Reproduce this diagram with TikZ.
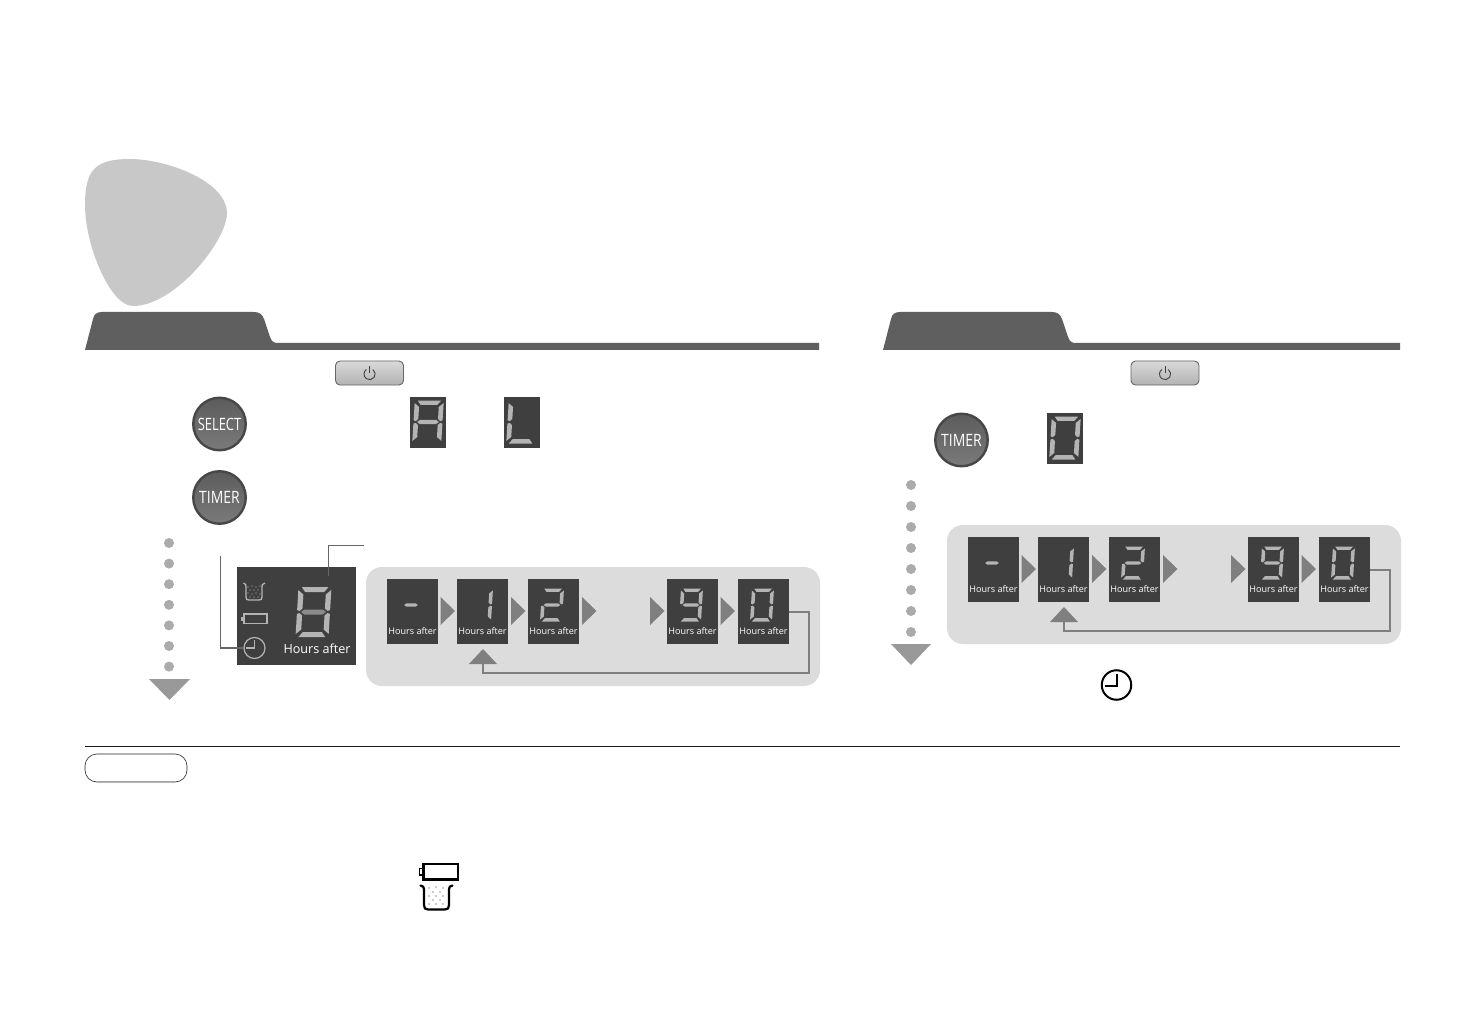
\documentclass[tikz,border=0pt]{standalone}
\usepackage{fontspec}
\setmainfont{Open Sans}
\definecolor{panelc}{HTML}{3F3F3F}
\definecolor{stripc}{HTML}{DCDCDC}
\definecolor{segc}{HTML}{B4B4B4}
\definecolor{segdim}{HTML}{8A8A8A}
\definecolor{arrowc}{HTML}{7F7F7F}
\definecolor{dotc}{HTML}{ABABAB}
\definecolor{tabc}{HTML}{5F5F5F}
\definecolor{blobc}{HTML}{C8C8C8}
\definecolor{leadc}{HTML}{666666}
\tikzset{
  dispbox/.style={fill=panelc,draw=none,inner sep=0pt,minimum width=51pt,minimum height=65pt},
  tinybox/.style={fill=panelc,draw=none,inner sep=0pt,minimum width=36pt,minimum height=51pt},
  hourstext/.style={text=white,inner sep=0pt,font=\fontsize{9.1}{9}\selectfont},
  roundbtn/.style={circle,draw=black!72,line width=2.4pt,top color=black!64,bottom color=black!52,minimum size=52.5pt,inner sep=0pt,text=white},
  powerbtn/.style={rectangle,rounded corners=4.5pt,draw=black!60,line width=0.9pt,top color=black!15,bottom color=black!30,minimum width=68pt,minimum height=24pt,inner sep=0pt},
  loopline/.style={draw=arrowc,line width=2pt},
  leader/.style={draw=leadc,line width=1.7pt},
  stepdot/.style={circle,fill=dotc,draw=none,minimum size=10pt,inner sep=0pt},
}
\newcommand\sgA[1][segc]{\fill[#1] (-.8,-1)--(.82,-1)--(.58,-.8)--(-.58,-.8)--cycle;}
\newcommand\sgD[1][segc]{\fill[#1] (-.82,1)--(.8,1)--(.58,.8)--(-.58,.8)--cycle;}
\newcommand\sgG[1][segc]{\fill[#1] (-.76,0)--(-.55,-.1)--(.55,-.1)--(.76,0)--(.55,.1)--(-.55,.1)--cycle;}
\newcommand\sgDash[1][segc]{\fill[#1] (-.62,0)--(-.42,-.1)--(.42,-.1)--(.62,0)--(.42,.1)--(-.42,.1)--cycle;}
\newcommand\sgF[1][segc]{\fill[#1] (-1,-.88)--(-.68,-.7)--(-.68,-.14)--(-.85,-.04)--(-1,-.08)--cycle;}
\newcommand\sgB[1][segc]{\fill[#1] (1,-.88)--(.68,-.7)--(.68,-.14)--(.85,-.04)--(1,-.08)--cycle;}
\newcommand\sgE[1][segc]{\fill[#1] (-1,.88)--(-.68,.7)--(-.68,.14)--(-.85,.04)--(-1,.08)--cycle;}
\newcommand\sgC[1][segc]{\fill[#1] (1,.88)--(.68,.7)--(.68,.14)--(.85,.04)--(1,.08)--cycle;}
% centre x, centre y, half width, half height, segments
\newcommand\segdigit[5]{\begin{scope}[shift={(#1,#2)},xslant=0.06,x=#3pt,y=-#4pt]#5\end{scope}}
\newcommand\triR[2]{\fill[arrowc] (#1,#2-14)--(#1+14.5,#2)--(#1,#2+14)--cycle;}
\newcommand\powericon[2]{%
  \draw[black!75,line width=0.9pt] (#1+3.3,#2-4.5) arc[start angle=55,end angle=-235,radius=5.6pt];
  \draw[black!75,line width=0.9pt] (#1,#2-8)--(#1,#2-0.5);}
% the sequence of five displays on its grey strip
\newcommand\sequence{%
  \fill[stripc,rounded corners=16pt] (366,567) rectangle (820,686);
  \node[dispbox] (d1) at (412.5,611.5) {};
  \node[dispbox] (d2) at (482.5,611.5) {};
  \node[dispbox] (d3) at (553.5,611.5) {};
  \node[dispbox] (d4) at (692.5,611.5) {};
  \node[dispbox] (d5) at (763.5,611.5) {};
  \foreach \n/\xx in {t1/412.5,t2/482.5,t3/553.5,t4/692.5,t5/763.5}
    \node[hourstext] (\n) at (\xx,631) {Hours after};
  \segdigit{411}{605}{11}{16.5}{\sgDash}
  \segdigit{481}{605}{11}{16.5}{\sgB\sgC}
  \segdigit{552}{605}{11}{16.5}{\sgA\sgB\sgG\sgE\sgD}
  \segdigit{691}{605}{11}{16.5}{\sgA\sgB\sgC\sgD\sgF\sgG}
  \segdigit{762}{605}{11}{16.5}{\sgA\sgB\sgC\sgD\sgE\sgF}
  \triR{440.5}{611}\triR{511}{611}\triR{582}{611}\triR{650}{611}\triR{720.5}{611}
  \fill[arrowc] (483,649)--(497,664)--(469,664)--cycle;
  \coordinate (up) at (d2.south |- 0,664);
  \coordinate (corner) at (809,673);
  \draw[loopline] (d5.east) -| (corner) -| (up);
}
\begin{document}
\begin{tikzpicture}[x=1pt,y=-1pt]
\useasboundingbox (0,0) rectangle (1457,1032);
\fill[white] (0,0) rectangle (1457,1032);
% blob
\fill[blobc] (130,159) .. controls (165,159) and (225,180) .. (227,212) .. controls (228,240) and (175,306) .. (133,306) .. controls (110,306) and (85,245) .. (85,205) .. controls (85,170) and (95,159) .. (130,159) -- cycle;
% header tabs
\foreach \dx/\rr in {0/819,798/1400}{
  \fill[tabc] (85+\dx,350) -- (93+\dx,319) .. controls (94+\dx,314) and (97+\dx,312) .. (102+\dx,312)
    -- (254+\dx,312) .. controls (259+\dx,312) and (262+\dx,314) .. (264+\dx,319)
    -- (270+\dx,337) .. controls (272+\dx,342) and (274+\dx,343) .. (278+\dx,343)
    -- (\rr,343) -- (\rr,350) -- cycle;
}
% power buttons
\node[powerbtn] (pl) at (369.5,373) {};
\node[powerbtn] (pr) at (1165,373) {};
\powericon{369.5}{374}
\powericon{1165}{374}
% round buttons
\node[roundbtn] (sel) at (219.5,424) {\fontsize{17}{17}\selectfont\scalebox{0.76}[1]{SELECT}};
\node[roundbtn] (tm1) at (219.5,497.5) {\fontsize{17}{17}\selectfont\scalebox{0.82}[1]{TIMER}};
\node[roundbtn] (tm2) at (961.5,440) {\fontsize{17}{17}\selectfont\scalebox{0.82}[1]{TIMER}};
% single displays
\node[tinybox] (da) at (428,422.5) {};
\node[tinybox] (dl) at (522,422.5) {};
\node[tinybox] (d0) at (1065,438.5) {};
\segdigit{428}{422}{14.5}{21.5}{\sgA\sgB\sgC\sgE\sgF\sgG}
\segdigit{522}{422}{14.5}{21.5}{\sgF\sgE\sgD}
\segdigit{1065}{438}{14.5}{21.5}{\sgA\sgB\sgC\sgD\sgE\sgF}
% dots left
\foreach \i in {0,...,6}
  \node[stepdot] (ldot\i) at (169,543+20.6*\i) {};
\fill[black!40] (149,679)--(190,679)--(169.5,700)--cycle;
% dots right
\foreach \i in {0,...,7}
  \node[stepdot] (rdot\i) at (911,485+21*\i) {};
\fill[black!40] (891,644)--(931,644)--(911,665)--cycle;
% big display
\node[fill=panelc,inner sep=0pt,minimum width=119pt,minimum height=98pt] (big) at (296.5,616) {};
\segdigit{313.5}{612}{16.5}{25}{\sgA\sgB\sgC\sgD\sgE\sgF\sgG[segdim]}
\node[text=white,inner sep=0pt,font=\fontsize{12.6}{13}\selectfont] (bigt) at (317,649) {Hours after};
% icons in the big display
\draw[segc,line width=1.3pt] (243.5,583) .. controls (246,584) and (246,585) .. (246,587) -- (246,597) .. controls (246,599.5) and (247,600) .. (249,600) -- (259,600) .. controls (261,600) and (262,599.5) .. (262,597) -- (262,587) .. controls (262,585) and (262,584) .. (265,583);
\foreach \a/\b in {248/587,252/586,256/587,260/586,250/590,254/590,258/590,248/593,252/594,256/593,260/594,250/597,254/597,258/597}
  \fill[segc] (\a,\b) circle[radius=0.6];
\draw[segc,line width=1.3pt] (244,614) rectangle (267,623.5);
\fill[segc] (241,616.5) rectangle (244,621);
\node[circle,draw=segc,line width=1.2pt,minimum size=21pt,inner sep=0pt] (clk) at (254.5,648) {};
\draw[segc,line width=1.2pt] (254.5,640) -- (254.5,648) -- (246,648);
% leaders
\coordinate (lead1) at (220.5,556);
\coordinate (lead2) at (328.5,576);
\coordinate (lead3) at (364,545.5);
\draw[leader] (lead1) |- (clk.west);
\draw[leader] (lead2) |- (lead3);
% sequences
\begin{scope}[name prefix=L-]
\sequence
\end{scope}
\begin{scope}[shift={(581,-42)},name prefix=R-]
\sequence
\end{scope}
% clock icon, right
\node[circle,draw=black,line width=2pt,minimum size=29.5pt,inner sep=0pt] (clk2) at (1116.5,685) {};
\draw[black,line width=2pt] (1116.5,674) -- (1116.5,686) -- (1105,686);
% rule and note pill
\coordinate (ruleA) at (85,746.5);
\coordinate (ruleB) at (1400,746.5);
\draw[black!90,line width=1.1pt] (ruleA) -- (ruleB);
\node[rectangle,rounded corners=12pt,draw=black!85,line width=0.6pt,fill=white,minimum width=102pt,minimum height=28pt,inner sep=0pt] (pill) at (136,768) {};
\draw[black!35,line width=1pt] (98,781.6) -- (175,781.6);
% battery and pot icons below
\draw[black,line width=2.3pt] (423.5,864) rectangle (458,879.5);
\draw[black,line width=1.5pt] (419.5,868.5) rectangle (423.5,875);
\draw[black,line width=2.2pt,line cap=round] (420.5,885.5) .. controls (423,886) and (424,887) .. (424,889) -- (424,905) .. controls (424,908) and (425,909.5) .. (428,909.5) -- (445,909.5) .. controls (448,909.5) and (449,908) .. (449,905) -- (449,889) .. controls (449,887) and (450,886) .. (452.5,885.5);
\foreach \a/\b in {429/888,436/887,443/888,433/892,440/892,429/896,436/896,443/896,433/900,440/900,429/904,436/904,443/904}
  \fill[black!85] (\a,\b) circle[radius=0.55];
\end{tikzpicture}
\end{document}
